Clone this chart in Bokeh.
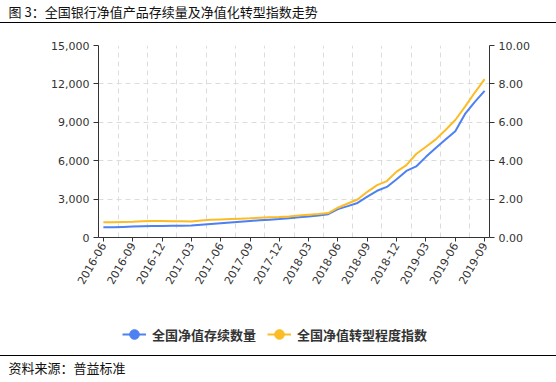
from bokeh.plotting import figure
from bokeh.models import (Range1d, LinearAxis, FixedTicker, NumeralTickFormatter, Title,
                          ColumnDataSource, Legend, LegendItem, Div)
from bokeh.layouts import column
from bokeh.embed import file_html
from bokeh.resources import INLINE
import math

# ---------------- data ----------------
months = ["2016-06", "2016-07", "2016-08", "2016-09", "2016-10", "2016-11", "2016-12",
          "2017-01", "2017-02", "2017-03", "2017-04", "2017-05", "2017-06", "2017-07",
          "2017-08", "2017-09", "2017-10", "2017-11", "2017-12", "2018-01", "2018-02",
          "2018-03", "2018-04", "2018-05", "2018-06", "2018-07", "2018-08", "2018-09",
          "2018-10", "2018-11", "2018-12", "2019-01", "2019-02", "2019-03", "2019-04",
          "2019-05", "2019-06", "2019-07", "2019-08", "2019-09"]

# 全国净值存续数量 (left axis)
stock_count = [800, 810, 830, 850, 870, 890, 900, 910, 920, 930,
               990, 1050, 1110, 1170, 1230, 1290, 1340, 1390, 1440, 1510,
               1580, 1650, 1720, 1820, 2220, 2450, 2700, 3200, 3650, 3950,
               4550, 5200, 5550, 6300, 7000, 7650, 8300, 9650, 10600, 11450]

# 全国净值转型程度指数 (right axis)
index_vals = [0.80, 0.80, 0.81, 0.82, 0.84, 0.86, 0.86, 0.85, 0.84, 0.83,
              0.88, 0.92, 0.94, 0.96, 0.98, 1.00, 1.03, 1.05, 1.07, 1.10,
              1.14, 1.18, 1.22, 1.27, 1.55, 1.77, 1.98, 2.38, 2.73, 2.94,
              3.43, 3.77, 4.35, 4.73, 5.11, 5.60, 6.12, 6.82, 7.55, 8.25]

tick_labels = months[::3]
left_ticks = [0, 3000, 6000, 9000, 12000, 15000]
right_ticks = [0, 2, 4, 6, 8, 10]
series_names = ["全国净值存续数量", "全国净值转型程度指数"]
title_text = "图 3：全国银行净值产品存续量及净值化转型指数走势"
source_text = "资料来源：普益标准"

BLUE = "#4d80f0"
ORANGE = "#fbbc26"
CJK = "Noto Sans CJK SC"
W = 556
LB, RB = 98, 67          # left / right borders shared by every panel

x_idx = list(range(len(months)))
src = ColumnDataSource(dict(x=x_idx, cnt=stock_count, idx=index_vals))
tick_pos = [months.index(t) for t in tick_labels]
grid_pos = [(a + b) / 2 for a, b in zip(tick_pos[:-1], tick_pos[1:])]


def blank_fig(h, top=0, bottom=0, x_range=None, y_range=None):
    f = figure(width=W, height=h, output_backend="svg", toolbar_location=None,
               x_axis_type=None, y_axis_type=None,
               min_border_left=LB, min_border_right=RB,
               min_border_top=top, min_border_bottom=bottom,
               x_range=x_range or Range1d(0, 1), y_range=y_range or Range1d(0, 1),
               background_fill_color="white", border_fill_color="white",
               outline_line_color=None, margin=0)
    f.grid.visible = False
    return f


def text_title(fig, text, color):
    fig.add_layout(Title(text=text, align="left", offset=-(LB - 8), standoff=0,
                         vertical_align="middle", text_font=CJK, text_font_size="13px",
                         text_font_style="normal", text_color=color), "above")


def rule():
    return Div(width=W, height=1, margin=0,
               styles={"background-color": "#000000", "margin": "0", "padding": "0"})


# ---------------- title ----------------
top = blank_fig(22, top=20)
text_title(top, title_text, "#111111")

# ---------------- main chart ----------------
p = figure(width=W, height=282, output_backend="svg", toolbar_location=None,
           x_range=Range1d(-0.5, len(months) - 0.5), y_range=Range1d(0, 15000),
           min_border_left=LB, min_border_right=RB, min_border_top=22, min_border_bottom=68,
           background_fill_color="white", border_fill_color="white", outline_line_color=None,
           margin=0)
p.extra_y_ranges = {"right": Range1d(0, 10)}

p.line("x", "cnt", source=src, color=BLUE, line_width=2)
p.line("x", "idx", source=src, color=ORANGE, line_width=2, y_range_name="right")

axis_style = dict(axis_line_color="#333333", major_tick_line_color="#333333",
                  minor_tick_line_color=None, major_tick_in=0,
                  major_label_text_font="DejaVu Sans", major_label_text_font_size="11px",
                  major_label_text_color="#333333")

p.xaxis.ticker = FixedTicker(ticks=tick_pos)
p.xaxis.major_label_overrides = {pos: lab for pos, lab in zip(tick_pos, tick_labels)}
p.xaxis.major_label_orientation = math.pi / 3
p.xaxis.major_label_standoff = 2
p.xaxis.major_tick_out = 4
for k, v in axis_style.items():
    setattr(p.xaxis[0], k, v)

p.yaxis.ticker = FixedTicker(ticks=left_ticks)
p.yaxis.formatter = NumeralTickFormatter(format="0,0")
p.yaxis.major_label_standoff = 4
p.yaxis.major_tick_out = 5
for k, v in axis_style.items():
    setattr(p.yaxis[0], k, v)

raxis = LinearAxis(y_range_name="right", ticker=FixedTicker(ticks=right_ticks),
                   formatter=NumeralTickFormatter(format="0.00"), major_label_standoff=4,
                   major_tick_out=5, **axis_style)
p.add_layout(raxis, "right")

p.xgrid.ticker = FixedTicker(ticks=grid_pos)
p.xgrid.grid_line_color = "#dcdcdc"
p.xgrid.grid_line_dash = "5 4"
p.ygrid.grid_line_color = "#dcdcdc"
p.ygrid.grid_line_dash = "5 4"

# ---------------- legend strip ----------------
# the series are drawn here outside the visible ranges, only to feed the legend swatches
leg = blank_fig(50, x_range=Range1d(1000, 1001), y_range=Range1d(-2e6, -1e6))
items = []
for name, col, ycol in zip(series_names, [BLUE, ORANGE], ["cnt", "idx"]):
    r1 = leg.line("x", ycol, source=src, color=col, line_width=2)
    r2 = leg.scatter("x", ycol, source=src, color=col, size=10)
    items.append(LegendItem(label=name, renderers=[r1, r2]))
legend = Legend(items=items, orientation="horizontal", location=(122 - LB, 9),
                glyph_width=24, glyph_height=24, label_standoff=6, spacing=11,
                padding=0, margin=0, border_line_color=None, background_fill_alpha=0,
                label_text_font=CJK, label_text_font_size="13px",
                label_text_font_style="bold", label_text_color="#333333")
leg.add_layout(legend, "center")

# ---------------- source ----------------
srcfig = blank_fig(24, top=20)
text_title(srcfig, source_text, "#111111")

layout = column(top, rule(), p, leg, rule(), srcfig, spacing=0, margin=0)
open("out.html", "w").write(file_html(layout, INLINE))
